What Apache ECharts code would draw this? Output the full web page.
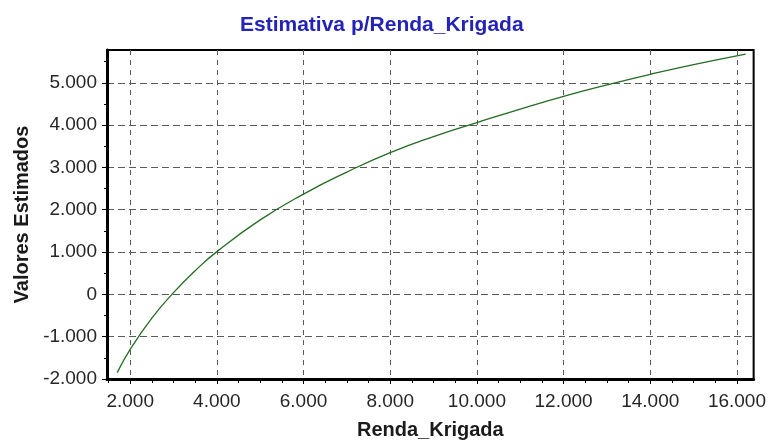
<!DOCTYPE html>
<html>
<head>
<meta charset="utf-8">
<script src="https://cdn.jsdelivr.net/npm/echarts@6/dist/echarts.min.js"></script>
<style>
html,body{margin:0;padding:0;background:#fff;}
#chart{width:769px;height:445px;}
</style>
</head>
<body>
<div id="chart"></div>
<script>
// Data
const rendaKrigada = [1700, 2000, 2500, 3000, 3500, 4000, 5000, 6000, 7000, 8000, 9000, 10000, 11000, 12000, 13000, 14000, 15000, 16200];
const valoresEstimados = [-1850, -1300, -560, 40, 560, 1010, 1760, 2370, 2890, 3350, 3730, 4060, 4380, 4680, 4950, 5200, 5430, 5680];
const xTicks = [2000, 4000, 6000, 8000, 10000, 12000, 14000, 16000];
const xMinorTicks = [1500, 2500, 3000, 3500, 4500, 5000, 5500, 6500, 7000, 7500, 8500, 9000, 9500, 10500, 11000, 11500, 12500, 13000, 13500, 14500, 15000, 15500, 16000];
const yTicks = [-2000, -1000, 0, 1000, 2000, 3000, 4000, 5000];
const yMinorTicks = [-1500, -500, 500, 1500, 2500, 3500, 4500, 5500];

function fmt(v) {
  if (v === 0) return '0';
  const neg = v < 0;
  let s = String(Math.abs(Math.round(v)));
  s = s.replace(/\B(?=(\d{3})+(?!\d))/g, '.');
  return (neg ? '-' : '') + s;
}

const chart = echarts.init(document.getElementById('chart'), null, {renderer: 'canvas'});
const FONT = 'Liberation Sans, Arial, sans-serif';
const gridDash = {color: '#5a5a5a', width: 1};

chart.setOption({
  animation: false,
  backgroundColor: '#ffffff',
  title: {
    text: 'Estimativa p/Renda_Krigada',
    left: 235,
    top: 10,
    textStyle: {color: '#2323b8', fontSize: 21, fontWeight: 'bold', fontFamily: FONT}
  },
  grid: {
    left: 107, right: 12, top: 50, bottom: 61,
    show: true, borderColor: '#000', borderWidth: 2, backgroundColor: '#fff'
  },
  xAxis: [{
    type: 'value',
    min: 1465, max: 16385,
    name: 'Renda_Krigada',
    nameLocation: 'middle',
    nameGap: 41,
    nameTextStyle: {color: '#1a1a1a', fontSize: 20, fontWeight: 'bold', fontFamily: FONT},
    axisLine: {show: true, onZero: false, lineStyle: {color: '#000', width: 3}},
    axisTick: {show: true, length: 5, lineStyle: {color: '#000', width: 1}, customValues: xTicks},
    axisLabel: {customValues: xTicks, formatter: fmt, color: '#262626', fontSize: 19, fontFamily: FONT, margin: 13},
    splitLine: {show: true, lineStyle: Object.assign({type: [5, 5]}, gridDash)}
  }, {
    type: 'value',
    min: 1465, max: 16385,
    position: 'bottom',
    axisLine: {show: false, onZero: false},
    axisTick: {show: true, length: 4, lineStyle: {color: '#000', width: 1}, customValues: xMinorTicks},
    axisLabel: {show: false},
    splitLine: {show: false}
  }],
  yAxis: [{
    type: 'value',
    min: -2000, max: 5775,
    name: 'Valores Estimados',
    nameLocation: 'middle',
    nameGap: 70,
    nameTextStyle: {color: '#1a1a1a', fontSize: 20, fontWeight: 'bold', fontFamily: FONT},
    axisLine: {show: true, onZero: false, lineStyle: {color: '#000', width: 3}},
    axisTick: {show: true, length: 5, lineStyle: {color: '#000', width: 1}, customValues: yTicks},
    axisLabel: {customValues: yTicks, formatter: fmt, color: '#262626', fontSize: 19, fontFamily: FONT, margin: 10},
    splitLine: {show: true, lineStyle: Object.assign({type: [7, 4]}, gridDash)}
  }, {
    type: 'value',
    min: -2000, max: 5775,
    position: 'left',
    axisLine: {show: false, onZero: false},
    axisTick: {show: true, length: 3, lineStyle: {color: '#000', width: 1}, customValues: yMinorTicks},
    axisLabel: {show: false},
    splitLine: {show: false}
  }],
  series: [{
    type: 'line',
    xAxisIndex: 0,
    yAxisIndex: 0,
    data: rendaKrigada.map((x, i) => [x, valoresEstimados[i]]),
    smooth: true,
    showSymbol: false,
    lineStyle: {color: '#246b24', width: 1.3}
  }]
});
</script>
</body>
</html>
